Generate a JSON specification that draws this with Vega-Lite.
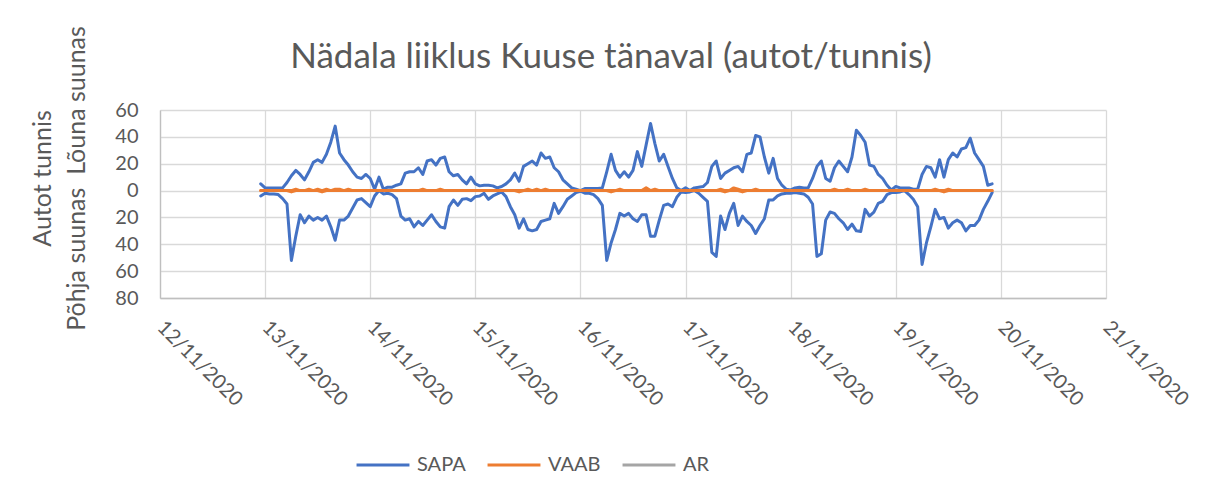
{
"$schema": "https://vega.github.io/schema/vega-lite/v6.json",
"width": 946, "height": 188,
"autosize": {"type": "none"},
"padding": {"left": 160, "top": 110, "right": 107, "bottom": 190},
"background": "white",
"title": {"text": "Nädala liiklus Kuuse tänaval (autot/tunnis)", "font": "Lato", "fontSize": 35, "fontWeight": "normal", "color": "#595959", "anchor": "middle", "frame": "group", "dx": -22, "baseline": "alphabetic", "offset": -77},
"data": {"values": [
{"t":"2020-11-12T23:00","S":5,"N":-4,"VS":0,"VN":0},
{"t":"2020-11-13T00:00","S":2,"N":-2,"VS":0,"VN":0},
{"t":"2020-11-13T01:00","S":2,"N":-2.5,"VS":0,"VN":0},
{"t":"2020-11-13T02:00","S":2,"N":-2.5,"VS":0,"VN":0},
{"t":"2020-11-13T03:00","S":2,"N":-3,"VS":0,"VN":0},
{"t":"2020-11-13T04:00","S":2,"N":-6,"VS":0,"VN":0},
{"t":"2020-11-13T05:00","S":6,"N":-10,"VS":0,"VN":0},
{"t":"2020-11-13T06:00","S":11,"N":-52,"VS":0,"VN":-1},
{"t":"2020-11-13T07:00","S":15,"N":-34,"VS":1,"VN":0},
{"t":"2020-11-13T08:00","S":12,"N":-18,"VS":0,"VN":0},
{"t":"2020-11-13T09:00","S":8,"N":-24,"VS":0,"VN":0},
{"t":"2020-11-13T10:00","S":14,"N":-19,"VS":1,"VN":0},
{"t":"2020-11-13T11:00","S":21,"N":-22,"VS":0,"VN":0},
{"t":"2020-11-13T12:00","S":23,"N":-20,"VS":1,"VN":0},
{"t":"2020-11-13T13:00","S":21,"N":-22,"VS":0,"VN":-1},
{"t":"2020-11-13T14:00","S":27,"N":-19,"VS":1,"VN":0},
{"t":"2020-11-13T15:00","S":36,"N":-27,"VS":0,"VN":0},
{"t":"2020-11-13T16:00","S":48,"N":-37,"VS":1,"VN":0},
{"t":"2020-11-13T17:00","S":28,"N":-22,"VS":1,"VN":0},
{"t":"2020-11-13T18:00","S":23,"N":-22,"VS":0,"VN":0},
{"t":"2020-11-13T19:00","S":19,"N":-19,"VS":1,"VN":0},
{"t":"2020-11-13T20:00","S":14,"N":-13,"VS":0,"VN":0},
{"t":"2020-11-13T21:00","S":10,"N":-7,"VS":0,"VN":0},
{"t":"2020-11-13T22:00","S":9,"N":-6,"VS":0,"VN":0},
{"t":"2020-11-13T23:00","S":12,"N":-9,"VS":0,"VN":0},
{"t":"2020-11-14T00:00","S":9,"N":-12,"VS":0,"VN":0},
{"t":"2020-11-14T01:00","S":1,"N":-4,"VS":0,"VN":0},
{"t":"2020-11-14T02:00","S":10,"N":0,"VS":0,"VN":0},
{"t":"2020-11-14T03:00","S":1,"N":-2.5,"VS":0,"VN":0},
{"t":"2020-11-14T04:00","S":2.5,"N":-2,"VS":0,"VN":0},
{"t":"2020-11-14T05:00","S":2.5,"N":-3,"VS":0,"VN":0},
{"t":"2020-11-14T06:00","S":4,"N":-6,"VS":0,"VN":0},
{"t":"2020-11-14T07:00","S":5,"N":-19,"VS":0,"VN":0},
{"t":"2020-11-14T08:00","S":13,"N":-22,"VS":0,"VN":0},
{"t":"2020-11-14T09:00","S":14,"N":-21,"VS":0,"VN":0},
{"t":"2020-11-14T10:00","S":14,"N":-27,"VS":0,"VN":0},
{"t":"2020-11-14T11:00","S":17,"N":-23,"VS":0,"VN":0},
{"t":"2020-11-14T12:00","S":12,"N":-26,"VS":1,"VN":0},
{"t":"2020-11-14T13:00","S":22,"N":-22,"VS":0,"VN":0},
{"t":"2020-11-14T14:00","S":23,"N":-18,"VS":0,"VN":0},
{"t":"2020-11-14T15:00","S":19,"N":-23,"VS":0,"VN":0},
{"t":"2020-11-14T16:00","S":24,"N":-27,"VS":1,"VN":0},
{"t":"2020-11-14T17:00","S":25,"N":-28,"VS":0,"VN":0},
{"t":"2020-11-14T18:00","S":14,"N":-12,"VS":0,"VN":0},
{"t":"2020-11-14T19:00","S":11,"N":-7,"VS":0,"VN":0},
{"t":"2020-11-14T20:00","S":12,"N":-11,"VS":0,"VN":0},
{"t":"2020-11-14T21:00","S":8,"N":-6.5,"VS":0,"VN":0},
{"t":"2020-11-14T22:00","S":5,"N":-6,"VS":0,"VN":0},
{"t":"2020-11-14T23:00","S":10,"N":-7.5,"VS":0,"VN":0},
{"t":"2020-11-15T00:00","S":5,"N":-4.5,"VS":0,"VN":0},
{"t":"2020-11-15T01:00","S":3.5,"N":-4,"VS":0,"VN":0},
{"t":"2020-11-15T02:00","S":4,"N":-2,"VS":0,"VN":0},
{"t":"2020-11-15T03:00","S":4,"N":-6.5,"VS":0,"VN":0},
{"t":"2020-11-15T04:00","S":3.5,"N":-4,"VS":0,"VN":0},
{"t":"2020-11-15T05:00","S":2,"N":-2.5,"VS":0,"VN":0},
{"t":"2020-11-15T06:00","S":3,"N":-1,"VS":0,"VN":0},
{"t":"2020-11-15T07:00","S":5,"N":-4.5,"VS":0,"VN":0},
{"t":"2020-11-15T08:00","S":8,"N":-12,"VS":0,"VN":0},
{"t":"2020-11-15T09:00","S":13,"N":-18,"VS":0,"VN":0},
{"t":"2020-11-15T10:00","S":7,"N":-28,"VS":0,"VN":-1},
{"t":"2020-11-15T11:00","S":18,"N":-21,"VS":0,"VN":0},
{"t":"2020-11-15T12:00","S":20,"N":-29,"VS":1,"VN":0},
{"t":"2020-11-15T13:00","S":22,"N":-30,"VS":0,"VN":0},
{"t":"2020-11-15T14:00","S":19,"N":-29,"VS":1,"VN":0},
{"t":"2020-11-15T15:00","S":28,"N":-23,"VS":0,"VN":0},
{"t":"2020-11-15T16:00","S":24,"N":-22,"VS":1,"VN":0},
{"t":"2020-11-15T17:00","S":25,"N":-21,"VS":0,"VN":0},
{"t":"2020-11-15T18:00","S":17,"N":-9.5,"VS":0,"VN":0},
{"t":"2020-11-15T19:00","S":14,"N":-17,"VS":0,"VN":0},
{"t":"2020-11-15T20:00","S":8,"N":-12,"VS":0,"VN":0},
{"t":"2020-11-15T21:00","S":5,"N":-6.5,"VS":0,"VN":0},
{"t":"2020-11-15T22:00","S":2,"N":-4,"VS":0,"VN":0},
{"t":"2020-11-15T23:00","S":1,"N":-1.5,"VS":0,"VN":0},
{"t":"2020-11-16T00:00","S":0,"N":-0.5,"VS":0,"VN":0},
{"t":"2020-11-16T01:00","S":1.5,"N":-2,"VS":0,"VN":0},
{"t":"2020-11-16T02:00","S":1.5,"N":-2,"VS":0,"VN":0},
{"t":"2020-11-16T03:00","S":1.5,"N":-3,"VS":0,"VN":0},
{"t":"2020-11-16T04:00","S":1.5,"N":-6,"VS":0,"VN":0},
{"t":"2020-11-16T05:00","S":2,"N":-11,"VS":0,"VN":0},
{"t":"2020-11-16T06:00","S":14,"N":-52,"VS":0,"VN":0},
{"t":"2020-11-16T07:00","S":27,"N":-39,"VS":0,"VN":-1},
{"t":"2020-11-16T08:00","S":15,"N":-29,"VS":0,"VN":0},
{"t":"2020-11-16T09:00","S":10,"N":-17,"VS":1,"VN":0},
{"t":"2020-11-16T10:00","S":14,"N":-19,"VS":0,"VN":0},
{"t":"2020-11-16T11:00","S":10,"N":-17,"VS":0,"VN":0},
{"t":"2020-11-16T12:00","S":15,"N":-21,"VS":0,"VN":0},
{"t":"2020-11-16T13:00","S":29,"N":-23,"VS":0,"VN":0},
{"t":"2020-11-16T14:00","S":18,"N":-18,"VS":0,"VN":0},
{"t":"2020-11-16T15:00","S":34,"N":-18,"VS":2,"VN":0},
{"t":"2020-11-16T16:00","S":50,"N":-34,"VS":0,"VN":0},
{"t":"2020-11-16T17:00","S":35,"N":-34,"VS":1,"VN":0},
{"t":"2020-11-16T18:00","S":22,"N":-22,"VS":0,"VN":0},
{"t":"2020-11-16T19:00","S":27,"N":-11,"VS":0,"VN":0},
{"t":"2020-11-16T20:00","S":18,"N":-10,"VS":0,"VN":0},
{"t":"2020-11-16T21:00","S":9,"N":-12,"VS":0,"VN":0},
{"t":"2020-11-16T22:00","S":2,"N":-5,"VS":0,"VN":0},
{"t":"2020-11-16T23:00","S":0,"N":-1,"VS":0,"VN":0},
{"t":"2020-11-17T00:00","S":2,"N":-1.5,"VS":0,"VN":0},
{"t":"2020-11-17T01:00","S":0,"N":-1,"VS":0,"VN":0},
{"t":"2020-11-17T02:00","S":2,"N":0,"VS":0,"VN":0},
{"t":"2020-11-17T03:00","S":2.5,"N":-2,"VS":0,"VN":0},
{"t":"2020-11-17T04:00","S":3,"N":-5,"VS":0,"VN":0},
{"t":"2020-11-17T05:00","S":6,"N":-8,"VS":0,"VN":0},
{"t":"2020-11-17T06:00","S":18,"N":-46,"VS":0,"VN":0},
{"t":"2020-11-17T07:00","S":22,"N":-49,"VS":0,"VN":0},
{"t":"2020-11-17T08:00","S":9,"N":-19,"VS":1,"VN":0},
{"t":"2020-11-17T09:00","S":13,"N":-29,"VS":0,"VN":-1},
{"t":"2020-11-17T10:00","S":15,"N":-17,"VS":0,"VN":0},
{"t":"2020-11-17T11:00","S":17,"N":-9.5,"VS":2,"VN":0},
{"t":"2020-11-17T12:00","S":18,"N":-26,"VS":1,"VN":0},
{"t":"2020-11-17T13:00","S":14,"N":-19,"VS":0,"VN":-1},
{"t":"2020-11-17T14:00","S":27,"N":-23,"VS":0,"VN":0},
{"t":"2020-11-17T15:00","S":28,"N":-26,"VS":0,"VN":0},
{"t":"2020-11-17T16:00","S":41,"N":-32,"VS":1,"VN":0},
{"t":"2020-11-17T17:00","S":40,"N":-26,"VS":0,"VN":0},
{"t":"2020-11-17T18:00","S":25,"N":-21,"VS":0,"VN":0},
{"t":"2020-11-17T19:00","S":13,"N":-7,"VS":0,"VN":0},
{"t":"2020-11-17T20:00","S":24,"N":-7,"VS":0,"VN":0},
{"t":"2020-11-17T21:00","S":9,"N":-4,"VS":0,"VN":0},
{"t":"2020-11-17T22:00","S":4,"N":-2.5,"VS":0,"VN":0},
{"t":"2020-11-17T23:00","S":1,"N":-2,"VS":0,"VN":0},
{"t":"2020-11-18T00:00","S":0.5,"N":-2,"VS":0,"VN":0},
{"t":"2020-11-18T01:00","S":2,"N":-1.5,"VS":0,"VN":0},
{"t":"2020-11-18T02:00","S":2.5,"N":-2,"VS":0,"VN":0},
{"t":"2020-11-18T03:00","S":2,"N":-2.5,"VS":0,"VN":0},
{"t":"2020-11-18T04:00","S":2,"N":-5,"VS":0,"VN":0},
{"t":"2020-11-18T05:00","S":9,"N":-10,"VS":0,"VN":0},
{"t":"2020-11-18T06:00","S":18,"N":-49,"VS":0,"VN":0},
{"t":"2020-11-18T07:00","S":22,"N":-47,"VS":0,"VN":0},
{"t":"2020-11-18T08:00","S":9,"N":-22,"VS":0,"VN":0},
{"t":"2020-11-18T09:00","S":7,"N":-16,"VS":0,"VN":0},
{"t":"2020-11-18T10:00","S":17,"N":-17,"VS":1,"VN":0},
{"t":"2020-11-18T11:00","S":22,"N":-21,"VS":0,"VN":0},
{"t":"2020-11-18T12:00","S":18,"N":-24,"VS":0,"VN":0},
{"t":"2020-11-18T13:00","S":14,"N":-29,"VS":1,"VN":0},
{"t":"2020-11-18T14:00","S":25,"N":-25,"VS":0,"VN":0},
{"t":"2020-11-18T15:00","S":45,"N":-30,"VS":0,"VN":0},
{"t":"2020-11-18T16:00","S":41,"N":-30.5,"VS":0,"VN":0},
{"t":"2020-11-18T17:00","S":36,"N":-14,"VS":1,"VN":0},
{"t":"2020-11-18T18:00","S":19,"N":-19,"VS":0,"VN":0},
{"t":"2020-11-18T19:00","S":18,"N":-16,"VS":0,"VN":0},
{"t":"2020-11-18T20:00","S":12,"N":-9.5,"VS":0,"VN":0},
{"t":"2020-11-18T21:00","S":9,"N":-8,"VS":0,"VN":0},
{"t":"2020-11-18T22:00","S":4,"N":-3,"VS":0,"VN":0},
{"t":"2020-11-18T23:00","S":0.5,"N":-1.5,"VS":0,"VN":0},
{"t":"2020-11-19T00:00","S":3,"N":-1.5,"VS":0,"VN":0},
{"t":"2020-11-19T01:00","S":2,"N":-1,"VS":0,"VN":0},
{"t":"2020-11-19T02:00","S":2,"N":0,"VS":0,"VN":0},
{"t":"2020-11-19T03:00","S":2,"N":-3,"VS":0,"VN":0},
{"t":"2020-11-19T04:00","S":1,"N":-6.5,"VS":0,"VN":0},
{"t":"2020-11-19T05:00","S":1,"N":-12,"VS":0,"VN":0},
{"t":"2020-11-19T06:00","S":12,"N":-55,"VS":0,"VN":0},
{"t":"2020-11-19T07:00","S":18,"N":-39,"VS":0,"VN":0},
{"t":"2020-11-19T08:00","S":17,"N":-27,"VS":0,"VN":0},
{"t":"2020-11-19T09:00","S":10,"N":-14,"VS":1,"VN":0},
{"t":"2020-11-19T10:00","S":23,"N":-21,"VS":0,"VN":0},
{"t":"2020-11-19T11:00","S":10,"N":-20,"VS":0,"VN":-1},
{"t":"2020-11-19T12:00","S":23,"N":-28,"VS":1,"VN":0},
{"t":"2020-11-19T13:00","S":28,"N":-24,"VS":0,"VN":0},
{"t":"2020-11-19T14:00","S":25,"N":-22,"VS":0,"VN":0},
{"t":"2020-11-19T15:00","S":31,"N":-24,"VS":0,"VN":0},
{"t":"2020-11-19T16:00","S":32,"N":-30,"VS":0,"VN":0},
{"t":"2020-11-19T17:00","S":39,"N":-26,"VS":0,"VN":0},
{"t":"2020-11-19T18:00","S":28,"N":-26,"VS":0,"VN":0},
{"t":"2020-11-19T19:00","S":23,"N":-22,"VS":0,"VN":0},
{"t":"2020-11-19T20:00","S":18,"N":-14,"VS":0,"VN":0},
{"t":"2020-11-19T21:00","S":4,"N":-8,"VS":0,"VN":0},
{"t":"2020-11-19T22:00","S":5,"N":-1.5,"VS":0,"VN":0}
]},
"encoding": {
  "x": {"field": "t", "type": "temporal",
    "scale": {"domain": [{"year": 2020, "month": 11, "date": 12}, {"year": 2020, "month": 11, "date": 21}], "nice": false},
    "axis": {"title": null, "format": "%d/%m/%Y",
      "values": [{"year": 2020, "month": 11, "date": 12}, {"year": 2020, "month": 11, "date": 13}, {"year": 2020, "month": 11, "date": 14}, {"year": 2020, "month": 11, "date": 15}, {"year": 2020, "month": 11, "date": 16}, {"year": 2020, "month": 11, "date": 17}, {"year": 2020, "month": 11, "date": 18}, {"year": 2020, "month": 11, "date": 19}, {"year": 2020, "month": 11, "date": 20}, {"year": 2020, "month": 11, "date": 21}],
      "labelAngle": 45, "labelAlign": "left", "labelBaseline": "middle", "labelPadding": 26,
      "labelFlush": false, "labelOverlap": false, "labelBound": false}
  }
},
"layer": [
  {"mark": {"type": "line"}, "encoding": {
    "y": {"field": "S", "type": "quantitative", "scale": {"domain": [-80, 60], "nice": false, "zero": false}, "title": ["Autot tunnis", "Põhja suunas\u00a0\u00a0Lõuna suunas"], "axis": {"values": [-80, -60, -40, -20, 0, 20, 40, 60], "labelExpr": "abs(datum.value)"}},
    "color": {"datum": "SAPA", "type": "nominal", "scale": {"domain": ["SAPA", "VAAB", "AR"], "range": ["#4472c4", "#ed7d31", "#a5a5a5"]}, "legend": {"title": null}}}},
  {"mark": {"type": "line"}, "encoding": {
    "y": {"field": "N", "type": "quantitative", "scale": {"domain": [-80, 60], "nice": false, "zero": false}, "title": ["Autot tunnis", "Põhja suunas\u00a0\u00a0Lõuna suunas"], "axis": {"values": [-80, -60, -40, -20, 0, 20, 40, 60], "labelExpr": "abs(datum.value)"}},
    "color": {"datum": "SAPA", "type": "nominal", "scale": {"domain": ["SAPA", "VAAB", "AR"], "range": ["#4472c4", "#ed7d31", "#a5a5a5"]}, "legend": {"title": null}}}},
  {"mark": {"type": "line"}, "encoding": {
    "y": {"field": "VS", "type": "quantitative", "scale": {"domain": [-80, 60], "nice": false, "zero": false}, "title": ["Autot tunnis", "Põhja suunas\u00a0\u00a0Lõuna suunas"], "axis": {"values": [-80, -60, -40, -20, 0, 20, 40, 60], "labelExpr": "abs(datum.value)"}},
    "color": {"datum": "VAAB", "type": "nominal", "scale": {"domain": ["SAPA", "VAAB", "AR"], "range": ["#4472c4", "#ed7d31", "#a5a5a5"]}, "legend": {"title": null}}}},
  {"mark": {"type": "line"}, "encoding": {
    "y": {"field": "VN", "type": "quantitative", "scale": {"domain": [-80, 60], "nice": false, "zero": false}, "title": ["Autot tunnis", "Põhja suunas\u00a0\u00a0Lõuna suunas"], "axis": {"values": [-80, -60, -40, -20, 0, 20, 40, 60], "labelExpr": "abs(datum.value)"}},
    "color": {"datum": "VAAB", "type": "nominal", "scale": {"domain": ["SAPA", "VAAB", "AR"], "range": ["#4472c4", "#ed7d31", "#a5a5a5"]}, "legend": {"title": null}}}}
],
"config": {
  "font": "Lato",
  "view": {"stroke": null},
  "line": {"strokeWidth": 3, "strokeJoin": "round", "strokeCap": "round"},
  "axis": {"labelFont": "Lato", "labelFontSize": 20, "labelColor": "#595959", "ticks": false, "tickSize": 0, "grid": true, "gridColor": "#d9d9d9", "gridWidth": 1.3, "domainColor": "#bfbfbf", "domainWidth": 1.3},
  "axisY": {"labelPadding": 22, "titleFont": "Lato", "titleFontSize": 25, "titleFontWeight": "normal", "titleColor": "#595959", "titleX": -105, "titleY": 68, "titleLineHeight": 34, "titleAngle": -90, "titleAlign": "center", "titleBaseline": "bottom"},
  "legend": {"orient": "none", "legendX": 195, "legendY": 327, "direction": "horizontal", "symbolType": "stroke", "symbolSize": 2800, "symbolStrokeWidth": 3, "labelFont": "Lato", "labelFontSize": 20, "labelColor": "#595959", "columnPadding": 20, "labelOffset": 6}
}
}
